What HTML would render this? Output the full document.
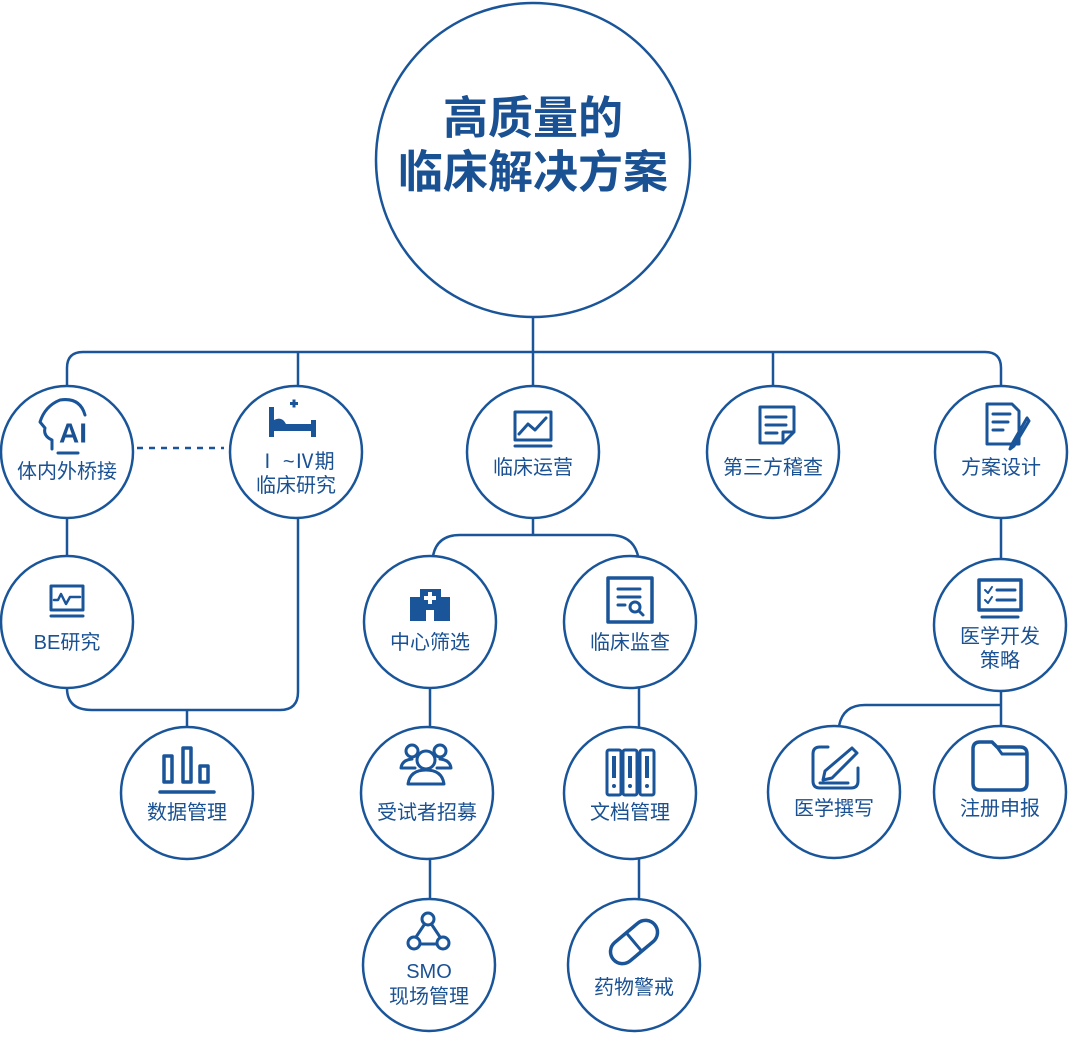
<!DOCTYPE html>
<html><head><meta charset="utf-8"><style>
html,body{margin:0;padding:0;background:#fff;}
svg{display:block;}
text{font-family:"Liberation Sans","Noto Sans CJK SC",sans-serif;fill:#1a5193;text-anchor:middle;dominant-baseline:central;}
</style></head><body>
<svg width="1080" height="1054" viewBox="0 0 1080 1054" xmlns="http://www.w3.org/2000/svg">
<g fill="none" stroke="#1a5599" stroke-width="2.5">
<circle cx="533" cy="160" r="157"/>
<path d="M533 317 V386"/>
<path d="M67 386 V368 Q67 352 83 352 H985 Q1001 352 1001 368 V386"/>
<path d="M298 352 V386 M773 352 V386"/>
<path d="M137 448 H224" stroke-dasharray="6 6"/>
<circle cx="67" cy="452" r="66"/>
<circle cx="296" cy="452" r="66"/>
<circle cx="533" cy="452" r="66"/>
<circle cx="773" cy="452" r="66"/>
<circle cx="1001" cy="452" r="66"/>
<path d="M67 518 V556"/>
<circle cx="67" cy="622" r="66"/>
<path d="M67 688 Q67 710 92 710 H280 Q298 710 298 692 V518"/>
<path d="M187 710 V727"/>
<circle cx="187" cy="793" r="66"/>
<path d="M533 518 V535 M433 556 Q437 535 460 535 H610 Q633 535 638 556"/>
<circle cx="430" cy="622" r="66"/>
<circle cx="630" cy="622" r="66"/>
<path d="M430 688 V727 M639 688 V727"/>
<circle cx="427" cy="793" r="66"/>
<circle cx="630" cy="793" r="66"/>
<path d="M430 859 V900 M639 859 V900"/>
<circle cx="429" cy="965" r="66"/>
<circle cx="634" cy="965" r="66"/>
<path d="M1001 518 V559"/>
<circle cx="1000" cy="625" r="66"/>
<path d="M1001 691 V726 M1001 705 H865 Q843 705 839 726"/>
<circle cx="834" cy="792" r="66"/>
<circle cx="1000" cy="792" r="66"/>
</g>

<text x="533" y="118" style="font-size:45px;font-weight:bold;">高质量的</text>
<text x="533" y="172" style="font-size:45px;font-weight:bold;">临床解决方案</text>

<g style="font-size:20px;">
<text x="67" y="472">体内外桥接</text>
<text x="296" y="462">Ⅰ ~Ⅳ期</text>
<text x="296" y="486">临床研究</text>
<text x="533" y="468">临床运营</text>
<text x="773" y="468">第三方稽查</text>
<text x="1001" y="468">方案设计</text>
<text x="67" y="643">BE研究</text>
<text x="430" y="643">中心筛选</text>
<text x="630" y="643">临床监查</text>
<text x="1000" y="637">医学开发</text>
<text x="1000" y="661">策略</text>
<text x="187" y="813">数据管理</text>
<text x="427" y="813">受试者招募</text>
<text x="630" y="813">文档管理</text>
<text x="834" y="809">医学撰写</text>
<text x="1000" y="809">注册申报</text>
<text x="429" y="972">SMO</text>
<text x="429" y="997">现场管理</text>
<text x="634" y="988">药物警戒</text>
</g>

<g fill="none" stroke="#1a5599" stroke-width="3" stroke-linecap="round" stroke-linejoin="round">
<path d="M52 449 V440 Q43 436 45 428 L40 422 Q45 406 60 400 Q80 397 85 415"/>
<path d="M58 453 H78"/>
<text x="73" y="433" style="font-size:28px;font-weight:bold;stroke:none;">AI</text>
<rect x="515" y="412" width="36" height="28"/>
<path d="M515 446 H551"/>
<path d="M519 434 L528 424 L535 430 L546 418"/>
<path d="M760 407 H794 V432 L783 443 H760 Z M783 443 V432 H794"/>
<path d="M766 417 H786 M766 425 H786 M766 433 H777"/>
<path d="M987 404 H1012 L1019 411 V444 H987 Z"/>
<path d="M993 414 H1010 M993 422 H1008 M993 430 H1003"/>
<path d="M1027 418 L1012 444 L1010 449 L1014 446 L1029 421 Z"/>
<rect x="51" y="586" width="32" height="24"/>
<path d="M51 616 H83"/>
<path d="M54 600 H58 L61 594 L66 604 L70 597 H80" stroke-width="2.5"/>
<rect x="608" y="578" width="44" height="44" stroke-width="3.5"/>
<path d="M618 589 H640 M618 597 H640 M618 605 H625"/>
<circle cx="635" cy="607" r="5"/><path d="M639 611 L643 615"/>
<rect x="979" y="580" width="42" height="30" stroke-width="3.5"/>
<path d="M982 617 H1018"/>
<path d="M985 590 L988 593 L992 587 M985 600 L988 603 L992 597" stroke-width="2"/>
<path d="M997 590 H1015 M997 600 H1015"/>
<rect x="164" y="756" width="8" height="26" stroke-width="3.5"/>
<rect x="183" y="748" width="8" height="34" stroke-width="3.5"/>
<rect x="200" y="766" width="8" height="16" stroke-width="3.5"/>
<path d="M160 792 H214" stroke-width="3.5"/>
<circle cx="412" cy="751" r="6"/><circle cx="440" cy="751" r="6"/>
<path d="M401 768 Q402 760 412 759 M451 768 Q450 760 440 759 M401 768 H415 M437 768 H451"/>
<circle cx="426" cy="760" r="9"/>
<path d="M408 784 Q410 770 426 770 Q442 770 444 784 Z"/>
<rect x="607" y="750" width="14" height="45" rx="2"/>
<rect x="623" y="750" width="14" height="45" rx="2"/>
<rect x="640" y="750" width="14" height="45" rx="2"/>
<path d="M828 747 H820 Q813 747 813 754 V781 Q813 788 820 788 H851 Q858 788 858 781 V768"/>
<path d="M852 748 L857 753 L832 778 L823 780 L825 771 Z"/>
<path d="M820 783 H848"/>
<path d="M973 783 V749 Q973 742 980 742 H992 L997 747 H1020 Q1027 747 1027 754 V783 Q1027 790 1020 790 H980 Q973 790 973 783 Z" stroke-width="3.5"/>
<path d="M997 747 L1002 754 H1027" stroke-width="3"/>
<circle cx="428" cy="919" r="6"/><circle cx="414" cy="943" r="6"/><circle cx="443" cy="943" r="6"/>
<path d="M424 925 L416 937 M432 925 L440 937 M420 944 H437"/>
<g transform="rotate(-40 634 942)"><rect x="607" y="930" width="54" height="24" rx="12" stroke-width="3.5"/><path d="M634 930 V954"/></g>
</g>
<g fill="#1a5599">
<rect x="269" y="407" width="5" height="30"/>
<rect x="311" y="420" width="5" height="17"/>
<path d="M274 420 Q282 416 286 424 H311 V431 H274 Z"/>
<rect x="290" y="402" width="8" height="3"/><rect x="292.5" y="399.5" width="3" height="8"/>
<path d="M420 589 H441 V597 H450 V621 H410 V597 H420 Z"/>
<rect x="426" y="610" width="8" height="11" fill="#fff"/>
<rect x="428" y="592" width="4" height="12" fill="#fff"/><rect x="424" y="596" width="12" height="4" fill="#fff"/>
<rect x="612" y="756" width="4" height="22"/><rect x="628" y="756" width="4" height="22"/><rect x="645" y="756" width="4" height="22"/>
<circle cx="614" cy="786" r="2"/><circle cx="630" cy="786" r="2"/><circle cx="647" cy="786" r="2"/>
</g>
</svg>
</body></html>
